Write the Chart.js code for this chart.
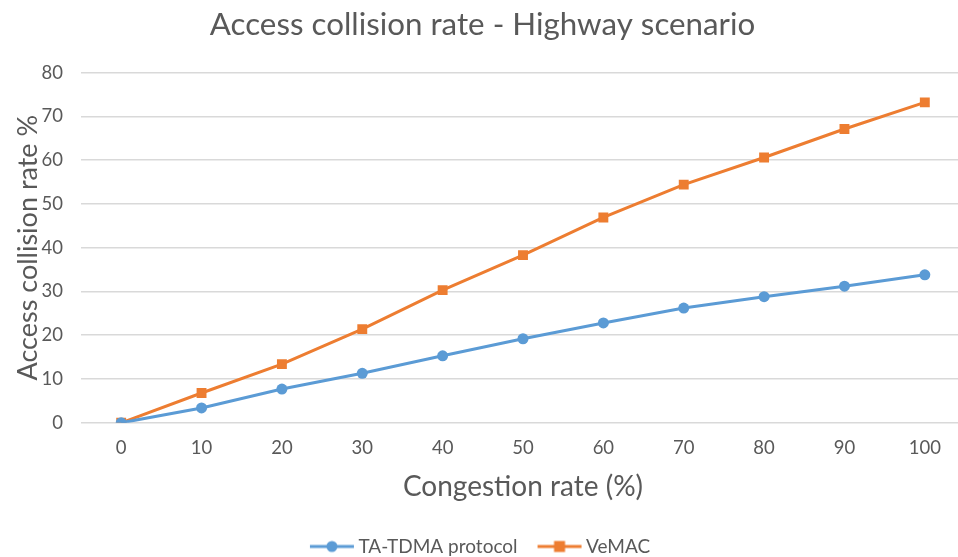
<!DOCTYPE html>
<html>
<head>
<meta charset="utf-8">
<script src="https://cdn.jsdelivr.net/npm/chart.js@4"></script>
<style>
  html, body { margin: 0; padding: 0; background: #fff; overflow: hidden; }
  #collisionChart { display: block; }
</style>
</head>
<body>
<canvas id="collisionChart" width="966" height="566"></canvas>
<script>
// congestion levels (%) on the x axis
const congestion = ['0', '10', '20', '30', '40', '50', '60', '70', '80', '90', '100'];
// access collision rate (%) per protocol
const taTdma = [0, 3.4, 7.7, 11.3, 15.3, 19.2, 22.8, 26.2, 28.8, 31.2, 33.8];
const veMac = [0, 6.8, 13.4, 21.4, 30.3, 38.3, 46.9, 54.4, 60.6, 67.1, 73.2];
const yTicks = [0, 10, 20, 30, 40, 50, 60, 70, 80];

const BLUE = '#5B9BD5';
const ORANGE = '#ED7D31';
const GREY = '#595959';
const FONT = 'Lato, Calibri, "Open Sans", sans-serif';

// small line + marker swatch for the legend
function legendSwatch(color, marker) {
    const c = document.createElement('canvas');
    c.width = 46;
    c.height = 14;
    const g = c.getContext('2d');
    g.strokeStyle = color;
    g.lineWidth = 3;
    g.beginPath();
    g.moveTo(1, 7);
    g.lineTo(45, 7);
    g.stroke();
    g.fillStyle = color;
    if (marker === 'circle') {
        g.beginPath();
        g.arc(23, 7, 5.5, 0, Math.PI * 2);
        g.fill();
    } else {
        g.fillRect(17.5, 1.5, 11, 11);
    }
    return c;
}

document.addEventListener("DOMContentLoaded", function () {
    const canvas = document.getElementById('collisionChart');
    if (!canvas) {
        console.error("collisionChart canvas not found.");
        return;
    }
    const swatches = [legendSwatch(BLUE, 'circle'), legendSwatch(ORANGE, 'square')];

    new Chart(canvas.getContext('2d'), {
        type: 'line',
        data: {
            labels: congestion,
            datasets: [{
                label: 'TA-TDMA protocol',
                data: taTdma,
                borderColor: BLUE,
                backgroundColor: BLUE,
                borderWidth: 3,
                pointStyle: 'circle',
                pointRadius: 5.5,
                pointBorderWidth: 0,
                tension: 0
            }, {
                label: 'VeMAC',
                data: veMac,
                borderColor: ORANGE,
                backgroundColor: ORANGE,
                borderWidth: 3,
                pointStyle: 'rect',
                pointRadius: 7,
                pointBorderWidth: 0,
                tension: 0
            }]
        },
        options: {
            responsive: false,
            animation: false,
            layout: {
                autoPadding: false,
                padding: { left: 0, right: 1, top: 4, bottom: 0 }
            },
            plugins: {
                title: {
                    display: true,
                    text: 'Access collision rate - Highway scenario',
                    color: GREY,
                    font: { family: FONT, size: 31.3, weight: 'normal' },
                    padding: { top: 2, bottom: 29 }
                },
                legend: {
                    position: 'bottom',
                    labels: {
                        usePointStyle: true,
                        pointStyleWidth: 34,
                        color: GREY,
                        font: { family: FONT, size: 19 },
                        padding: 25,
                        generateLabels: function (chart) {
                            return chart.data.datasets.map(function (ds, i) {
                                return {
                                    text: ds.label,
                                    fillStyle: ds.borderColor,
                                    strokeStyle: ds.borderColor,
                                    fontColor: GREY,
                                    lineWidth: 0,
                                    pointStyle: swatches[i],
                                    hidden: false,
                                    datasetIndex: i
                                };
                            });
                        }
                    }
                },
                tooltip: { enabled: false }
            },
            scales: {
                x: {
                    offset: true,
                    // categories sit between the plot edges, so no extra side padding
                    afterFit: function (axis) {
                        axis.paddingLeft = 0;
                        axis.paddingRight = 0;
                    },
                    grid: { display: false, drawTicks: false },
                    border: { display: false },
                    ticks: {
                        color: GREY,
                        font: { family: FONT, size: 18.5 },
                        padding: 14
                    },
                    title: {
                        display: true,
                        text: 'Congestion rate (%)',
                        color: GREY,
                        font: { family: FONT, size: 28, lineHeight: 1 },
                        padding: { top: 0, bottom: 11 }
                    }
                },
                y: {
                    min: yTicks[0],
                    max: yTicks[yTicks.length - 1],
                    afterBuildTicks: function (axis) {
                        axis.ticks = yTicks.map(function (v) { return { value: v }; });
                    },
                    afterFit: function (axis) {
                        axis.width = 81;
                    },
                    grid: { color: '#D9D9D9', lineWidth: 1.5, drawTicks: false },
                    border: { display: false },
                    ticks: {
                        color: GREY,
                        font: { family: FONT, size: 18.5 },
                        padding: 18
                    },
                    title: {
                        display: true,
                        text: 'Access collision rate %',
                        color: GREY,
                        font: { family: FONT, size: 27, lineHeight: 1 },
                        padding: { top: 14.5, bottom: 0 }
                    }
                }
            }
        }
    });
});
</script>
</body>
</html>
